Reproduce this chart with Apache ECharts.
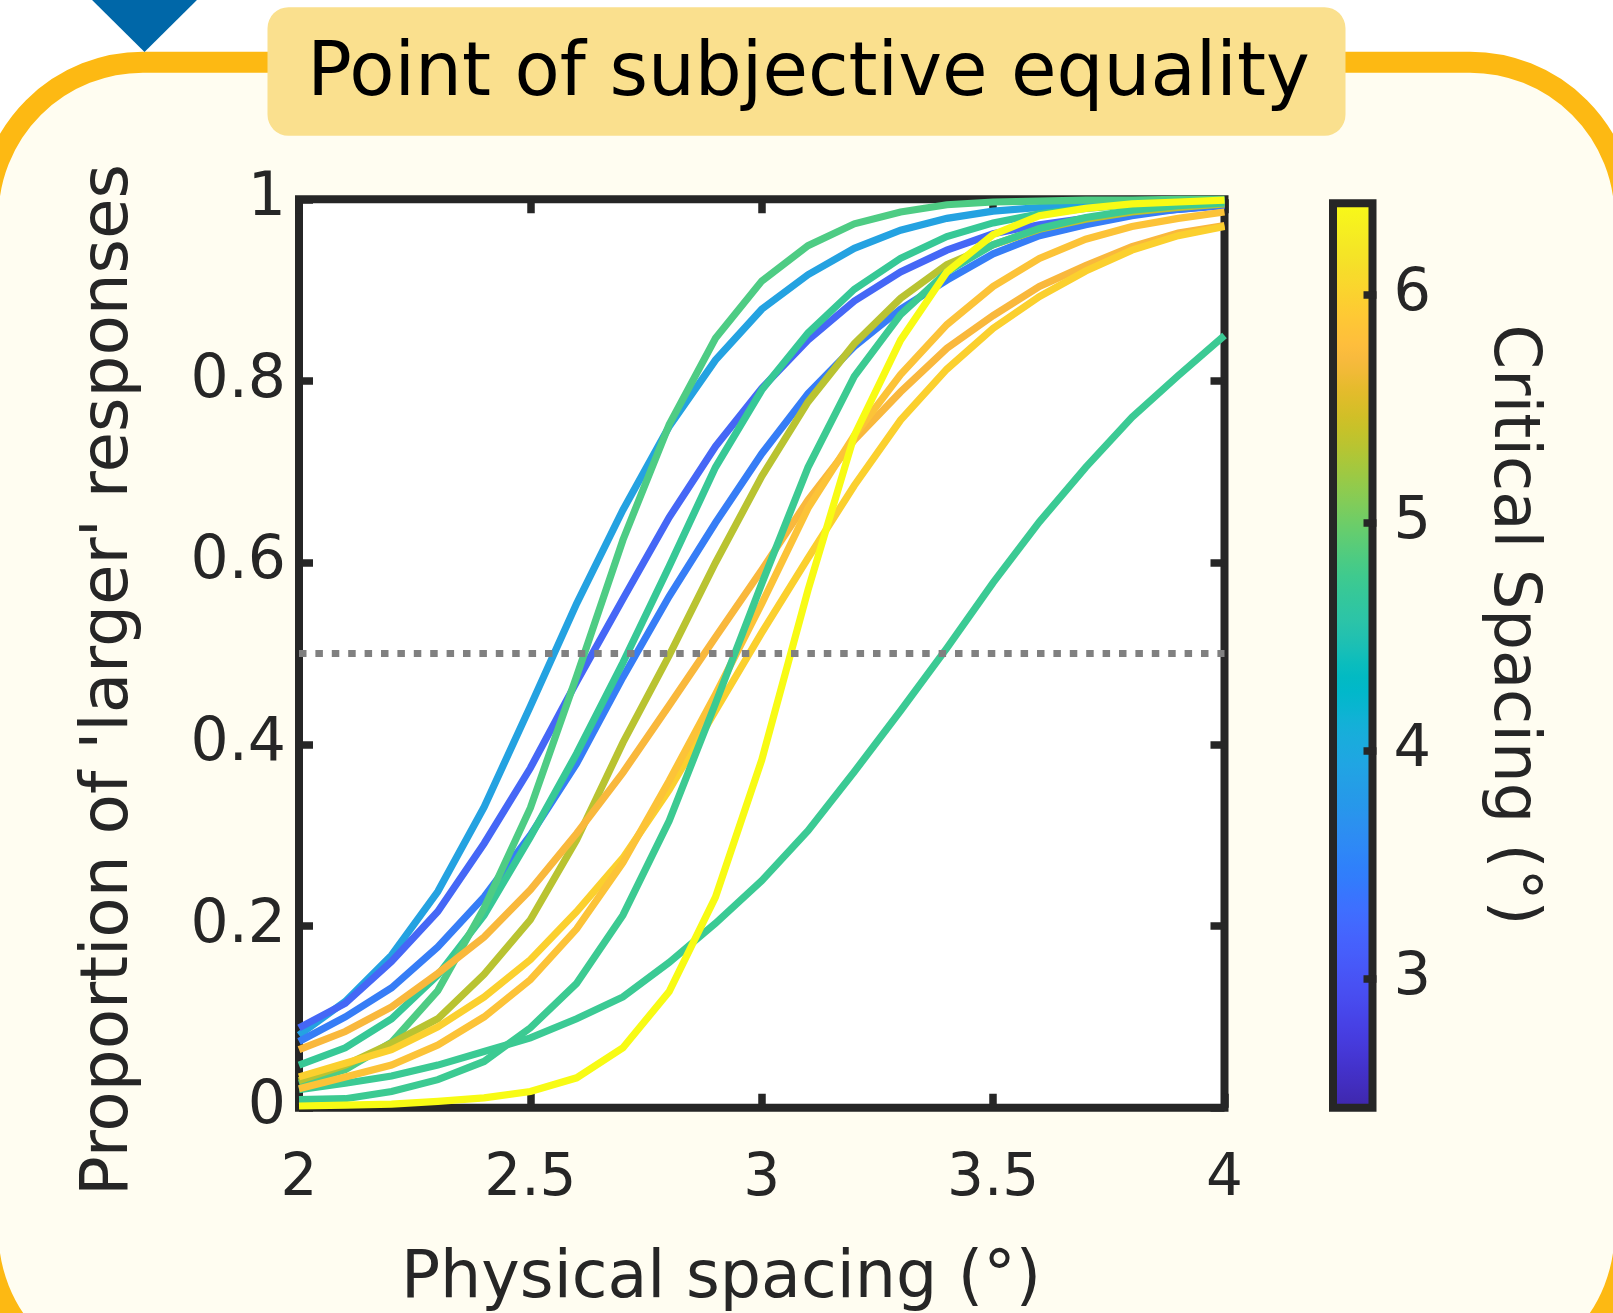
<!DOCTYPE html>
<html>
<head>
<meta charset="utf-8">
<script src="https://cdn.jsdelivr.net/npm/echarts@6/dist/echarts.min.js"></script>
<style>
html,body{margin:0;padding:0;background:#ffffff;}
#chart{width:1613px;height:1313px;}
</style>
</head>
<body>
<div id="chart"></div>
<script>
// ---------- data ----------
const xValues = [2.0,2.1,2.2,2.3,2.4,2.5,2.6,2.7,2.8,2.9,3.0,3.1,3.2,3.3,3.4,3.5,3.6,3.7,3.8,3.9,4.0];

const tealShallow  = [0.020,0.027,0.035,0.047,0.062,0.077,0.098,0.122,0.160,0.203,0.250,0.305,0.370,0.437,0.506,0.578,0.645,0.705,0.760,0.806,0.850];
const lightBlue    = [0.080,0.117,0.168,0.238,0.331,0.442,0.555,0.658,0.750,0.823,0.879,0.917,0.946,0.966,0.979,0.987,0.991,0.994,0.996,0.997,0.998];
const darkBlue     = [0.088,0.115,0.161,0.216,0.291,0.374,0.469,0.560,0.650,0.728,0.792,0.845,0.888,0.920,0.944,0.962,0.972,0.979,0.985,0.989,0.993];
const midBlue      = [0.073,0.100,0.132,0.177,0.232,0.300,0.379,0.474,0.563,0.644,0.720,0.786,0.838,0.879,0.911,0.940,0.960,0.972,0.982,0.989,0.994];
const tealA        = [0.047,0.066,0.098,0.146,0.212,0.298,0.390,0.490,0.596,0.705,0.790,0.853,0.901,0.935,0.959,0.974,0.984,0.990,0.994,0.996,0.998];
const green        = [0.027,0.042,0.072,0.129,0.220,0.330,0.475,0.625,0.752,0.847,0.910,0.949,0.973,0.986,0.994,0.997,0.998,0.999,0.999,1.000,1.000];
const olive        = [0.030,0.047,0.071,0.098,0.147,0.207,0.295,0.402,0.498,0.600,0.695,0.777,0.841,0.891,0.928,0.950,0.967,0.978,0.986,0.991,0.995];
const orange       = [0.064,0.084,0.111,0.148,0.188,0.240,0.302,0.369,0.443,0.518,0.592,0.669,0.735,0.788,0.836,0.872,0.904,0.927,0.948,0.963,0.971];
const yellowOrange = [0.034,0.049,0.064,0.089,0.122,0.163,0.216,0.275,0.350,0.437,0.523,0.605,0.685,0.757,0.813,0.858,0.893,0.921,0.944,0.960,0.970];
const orange2      = [0.021,0.034,0.047,0.069,0.100,0.141,0.197,0.270,0.360,0.455,0.555,0.660,0.740,0.807,0.862,0.904,0.935,0.956,0.970,0.979,0.986];
const tealSteep    = [0.009,0.010,0.018,0.031,0.051,0.088,0.137,0.212,0.316,0.445,0.577,0.705,0.805,0.873,0.920,0.950,0.968,0.980,0.988,0.993,0.996];
const yellow       = [0.002,0.003,0.004,0.007,0.011,0.018,0.033,0.066,0.128,0.232,0.383,0.570,0.740,0.845,0.920,0.961,0.982,0.990,0.995,0.997,0.999];

const curveNames  = ['tealShallow','lightBlue','darkBlue','midBlue','tealA','green','olive','orange','yellowOrange','orange2','tealSteep','yellow'];
const curveValues = [tealShallow,lightBlue,darkBlue,midBlue,tealA,green,olive,orange,yellowOrange,orange2,tealSteep,yellow];
const curveColors = ['#3BCA94','#24A2E1','#4567F6','#367DF6','#37C896','#4ECC84','#B9C331','#F9B83C','#FBD02E','#FCC338','#3CCA92','#F8FB14'];

const xTicks = [2, 2.5, 3, 3.5, 4];
const yTicks = [0, 0.2, 0.4, 0.6, 0.8, 1];
const colorbarTicks = [3, 4, 5, 6];
const colorbarRange = [2.435, 6.417];
const pseLevel = 0.5;

// parula colormap (style)
const parula = [[0.2422,0.1504,0.6603],[0.2504,0.1650,0.7076],[0.2578,0.1818,0.7511],[0.2647,0.1978,0.7952],[0.2706,0.2147,0.8364],[0.2751,0.2342,0.8710],[0.2783,0.2559,0.8991],[0.2803,0.2782,0.9221],[0.2813,0.3006,0.9414],[0.2810,0.3228,0.9579],[0.2795,0.3447,0.9717],[0.2760,0.3667,0.9829],[0.2699,0.3892,0.9906],[0.2602,0.4123,0.9952],[0.2440,0.4358,0.9988],[0.2206,0.4603,0.9973],[0.1963,0.4847,0.9892],[0.1834,0.5074,0.9798],[0.1786,0.5289,0.9682],[0.1764,0.5499,0.9520],[0.1687,0.5703,0.9359],[0.1540,0.5902,0.9218],[0.1460,0.6091,0.9079],[0.1380,0.6276,0.8973],[0.1248,0.6459,0.8883],[0.1113,0.6635,0.8763],[0.0952,0.6798,0.8598],[0.0689,0.6948,0.8394],[0.0297,0.7082,0.8163],[0.0036,0.7203,0.7917],[0.0067,0.7312,0.7660],[0.0433,0.7411,0.7394],[0.0964,0.7500,0.7120],[0.1408,0.7584,0.6842],[0.1717,0.7670,0.6554],[0.1938,0.7758,0.6251],[0.2161,0.7843,0.5923],[0.2470,0.7918,0.5567],[0.2906,0.7973,0.5188],[0.3406,0.8008,0.4789],[0.3909,0.8029,0.4354],[0.4456,0.8024,0.3909],[0.5044,0.7993,0.3480],[0.5616,0.7942,0.3045],[0.6174,0.7876,0.2612],[0.6720,0.7793,0.2227],[0.7242,0.7698,0.1910],[0.7738,0.7598,0.1646],[0.8203,0.7498,0.1535],[0.8634,0.7406,0.1596],[0.9035,0.7330,0.1774],[0.9393,0.7288,0.2100],[0.9728,0.7298,0.2394],[0.9956,0.7434,0.2371],[0.9970,0.7659,0.2199],[0.9952,0.7893,0.2028],[0.9892,0.8136,0.1885],[0.9786,0.8386,0.1766],[0.9676,0.8639,0.1643],[0.9610,0.8890,0.1537],[0.9597,0.9135,0.1423],[0.9628,0.9373,0.1265],[0.9691,0.9606,0.1064],[0.9769,0.9839,0.0805]];

// ---------- chart ----------
const FONT = '"DejaVu Sans", "Liberation Sans", sans-serif';
const AXC = '#262626';
const chart = echarts.init(document.getElementById('chart'), null, {renderer:'canvas'});

const stops = parula.map((c,i) => ({offset: i/(parula.length-1),
  color: 'rgb(' + Math.round(c[0]*255) + ',' + Math.round(c[1]*255) + ',' + Math.round(c[2]*255) + ')'}));

const curveSeries = curveValues.map((vals, i) => ({
  name: curveNames[i], type: 'line', xAxisIndex: 0, yAxisIndex: 0,
  data: xValues.map((x, j) => [x, vals[j]]),
  symbol: 'none', clip: false, silent: true, animation: false,
  lineStyle: {color: curveColors[i], width: 7.2, cap: 'butt', join: 'miter'},
  z: 2 + i * 0.01
}));

const tickBase = {show: true, inside: true, length: 14, lineStyle: {color: AXC, width: 7.5}};

const option = {
  animation: false,
  backgroundColor: 'transparent',
  graphic: [
    {type:'rect', z:-10, silent:true, shape:{x:-12, y:62.2, width:1637, height:1325, r:155},
     style:{fill:'#FFFDF1', stroke:'#FDB913', lineWidth:21}},
    {type:'polygon', z:-9, silent:true, shape:{points:[[87,-5],[202,-5],[144.5,52]]}, style:{fill:'#0067A8'}},
    {type:'rect', z:-8, silent:true, shape:{x:267.5, y:7.2, width:1078, height:128.6, r:21}, style:{fill:'#FAE08E'}},
    {type:'text', z:20, x:808.5, y:76, silent:true,
     style:{text:'Point of subjective equality', fontSize:74, fontFamily:FONT, fill:'#000000', align:'center', verticalAlign:'middle'}},
    {type:'text', z:20, x:110, y:680, rotation:Math.PI/2, silent:true,
     style:{text:"Proportion of 'larger' responses", fontSize:66, fontFamily:FONT, fill:AXC, align:'center', verticalAlign:'middle'}},
    {type:'text', z:20, x:721, y:1280, silent:true,
     style:{text:'Physical spacing (°)', fontSize:65, fontFamily:FONT, fill:AXC, align:'center', verticalAlign:'middle'}},
    {type:'text', z:20, x:1512, y:625, rotation:-Math.PI/2, silent:true,
     style:{text:'Critical Spacing (°)', fontSize:64, fontFamily:FONT, fill:AXC, align:'center', verticalAlign:'middle'}}
  ],
  grid: [
    {left:299, top:199.3, width:925.5, height:908.5, show:true, backgroundColor:'#ffffff',
     borderColor:AXC, borderWidth:8, containLabel:false, outerBoundsMode:'none'},
    {left:1329, top:199.3, width:47.5, height:908.5, show:false, containLabel:false, outerBoundsMode:'none'}
  ],
  xAxis: [
    {type:'value', gridIndex:0, position:'bottom', min:xTicks[0], max:xTicks[xTicks.length-1], interval:0.5,
     axisLine:{show:false, onZero:false}, axisTick:tickBase, splitLine:{show:false},
     axisLabel:{show:true, margin:43, fontSize:58, fontFamily:FONT, color:AXC, formatter: v => String(v)}},
    {type:'value', gridIndex:0, position:'top', min:xTicks[0], max:xTicks[xTicks.length-1], interval:0.5,
     axisLine:{show:false, onZero:false}, axisTick:tickBase, splitLine:{show:false}, axisLabel:{show:false}},
    {type:'category', gridIndex:1, position:'bottom', data:['colorbar'], boundaryGap:true,
     axisLine:{show:false, onZero:false}, axisTick:{show:false}, axisLabel:{show:false}, splitLine:{show:false}}
  ],
  yAxis: [
    {type:'value', gridIndex:0, position:'left', min:yTicks[0], max:yTicks[yTicks.length-1], interval:0.2,
     axisLine:{show:false, onZero:false}, axisTick:tickBase, splitLine:{show:false},
     axisLabel:{show:true, margin:13, fontSize:60, fontFamily:FONT, color:AXC, formatter: v => String(+v.toFixed(1))}},
    {type:'value', gridIndex:0, position:'right', min:yTicks[0], max:yTicks[yTicks.length-1], interval:0.2,
     axisLine:{show:false, onZero:false}, axisTick:tickBase, splitLine:{show:false}, axisLabel:{show:false}},
    {type:'value', gridIndex:1, position:'right', min:colorbarRange[0], max:colorbarRange[1], z:5,
     axisLine:{show:false, onZero:false},
     axisTick:{show:true, inside:true, length:13, customValues:colorbarTicks, lineStyle:{color:AXC, width:7.5}},
     axisLabel:{show:true, margin:17, fontSize:59, fontFamily:FONT, color:AXC, customValues:colorbarTicks},
     splitLine:{show:false}}
  ],
  series: [
    ...curveSeries,
    {name:'PSE level', type:'line', xAxisIndex:0, yAxisIndex:0,
     data:[[xTicks[0], pseLevel], [xTicks[xTicks.length-1], pseLevel]],
     symbol:'none', silent:true, clip:false, z:4,
     lineStyle:{color:'#808080', width:7, type:[7.5, 8.9], cap:'butt'}},
    {name:'colorbar', type:'bar', xAxisIndex:2, yAxisIndex:2, data:[colorbarRange[1]],
     barWidth:'100%', silent:true, z:1,
     itemStyle:{color:{type:'linear', x:0, y:1, x2:0, y2:0, colorStops:stops}, borderColor:AXC, borderWidth:8}}
  ]
};
chart.setOption(option);
</script>
</body>
</html>
